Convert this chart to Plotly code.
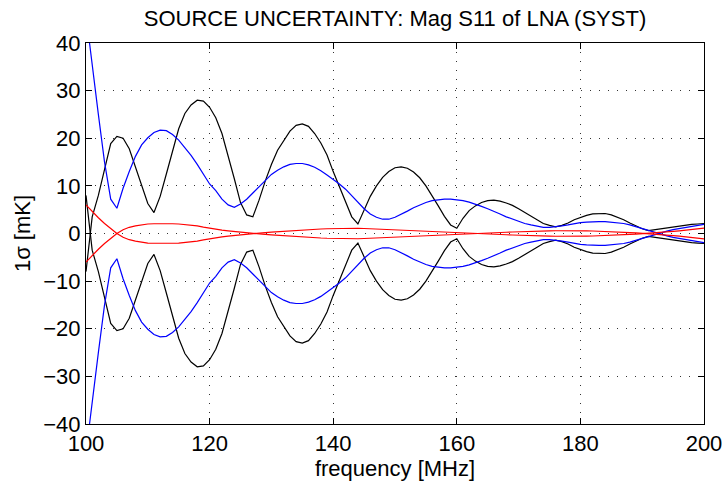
import numpy as np
import plotly.graph_objects as go

# Frequency grid [MHz]
freq = list(range(100, 201))

# 1-sigma systematic uncertainty [mK]; each curve is drawn as +/- pair
unc_black = [
    -8.0, 3.5, 8.0, 13.5, 18.9, 20.4, 20.0, 17.8, 13.8, 9.8,
    6.3, 4.4, 7.8, 12.5, 17.5, 22.0, 25.2, 27.0, 28.0, 27.8,
    26.5, 24.3, 21.0, 16.5, 11.5, 6.5, 3.9, 3.5, 7.0, 11.0,
    14.5, 17.5, 19.5, 21.5, 22.7, 23.0, 22.5, 21.0, 19.0, 16.5,
    13.0, 9.8, 6.5, 3.5, 2.0, 5.0, 7.8, 10.0, 11.8, 13.0,
    13.8, 14.0, 13.7, 12.9, 11.7, 10.0, 8.0, 5.8, 3.6, 1.8,
    1.1, 3.2, 4.8, 5.8, 6.5, 6.9, 7.0, 6.8, 6.4, 5.9,
    5.2, 4.4, 3.6, 2.8, 2.1, 1.7, 1.4, 1.7, 2.2, 2.9,
    3.4, 3.8, 4.1, 4.2, 4.2, 3.9, 3.4, 2.9, 2.2, 1.6,
    1.0, 0.6, 0.8, 1.0, 1.2, 1.4, 1.6, 1.8, 1.9, 2.0,
    2.1,
]

unc_blue = [
    46.0, 35.0, 25.0, 15.0, 7.2, 5.3, 9.5, 13.0, 16.2, 18.6,
    20.1, 21.2, 21.7, 21.6, 20.8, 19.6, 18.0, 16.4, 14.5, 12.3,
    10.4, 9.0, 7.2, 6.0, 5.5, 6.2, 7.2, 8.5, 9.8, 11.2,
    12.4, 13.3, 14.0, 14.5, 14.7, 14.7, 14.4, 13.9, 13.2, 12.3,
    11.4, 10.4, 9.3, 7.9, 6.5, 5.2, 4.1, 3.4, 3.0, 3.0,
    3.4, 4.0, 4.7, 5.4, 6.0, 6.5, 6.9, 7.1, 7.2, 7.2,
    7.1, 6.9, 6.6, 6.2, 5.7, 5.2, 4.7, 4.1, 3.5, 3.0,
    2.5, 2.1, 1.8, 1.5, 1.3, 1.3, 1.4, 1.6, 1.8, 2.1,
    2.3, 2.4, 2.5, 2.5, 2.5, 2.4, 2.3, 2.1, 1.8, 1.4,
    1.0, 0.6, 0.2, -0.2, -0.5, -0.8, -1.0, -1.3, -1.5, -1.7,
    -1.9,
]

unc_red = [
    6.0, 4.6, 3.3, 2.1, 1.0, 0.0, -0.8, -1.3, -1.6, -1.85,
    -2.0, -2.05, -2.1, -2.1, -2.05, -2.0, -1.9, -1.8, -1.6, -1.35,
    -1.1, -0.9, -0.7, -0.55, -0.4, -0.25, -0.15, -0.05, 0.05, 0.2,
    0.3, 0.4, 0.45, 0.55, 0.65, 0.75, 0.85, 0.9, 0.95, 1.0,
    1.05, 1.1, 1.1, 1.1, 1.1, 1.05, 1.0, 0.95, 0.9, 0.85,
    0.8, 0.75, 0.7, 0.65, 0.6, 0.55, 0.5, 0.45, 0.4, 0.35,
    0.3, 0.22, 0.15, 0.07, 0.0, -0.07, -0.14, -0.2, -0.26, -0.32,
    -0.38, -0.42, -0.46, -0.5, -0.53, -0.56, -0.58, -0.6, -0.6, -0.6,
    -0.58, -0.56, -0.53, -0.5, -0.46, -0.41, -0.35, -0.28, -0.2, -0.12,
    -0.05, 0.03, 0.12, 0.22, 0.32, 0.43, 0.55, 0.68, 0.82, 0.97,
    1.12,
]

x_ticks = [100, 120, 140, 160, 180, 200]
y_ticks = [-40, -30, -20, -10, 0, 10, 20, 30, 40]

FONT = "Liberation Sans, Arial, Helvetica, sans-serif"
FSIZE = 22

fig = go.Figure()
for values, color in [(unc_black, "#000000"), (unc_blue, "#0000ff"), (unc_red, "#ff0000")]:
    v = np.asarray(values)
    for sign in (1, -1):
        fig.add_trace(go.Scatter(
            x=freq, y=sign * v, mode="lines",
            line=dict(color=color, width=1.2),
            showlegend=False, hoverinfo="skip",
        ))

axis_common = dict(
    showline=True, linecolor="#000000", linewidth=1, mirror="ticks",
    ticks="inside", ticklen=6, tickwidth=1, tickcolor="#000000",
    showgrid=True, gridcolor="#333333", gridwidth=1, griddash="1px,8px",
    zeroline=False, automargin=False,
    tickfont=dict(family=FONT, size=FSIZE, color="#000000"),
)

fig.update_layout(
    width=727, height=485,
    margin=dict(l=86, r=23, t=43, b=61),
    paper_bgcolor="white", plot_bgcolor="white",
    title=dict(
        text="SOURCE UNCERTAINTY: Mag S11 of LNA (SYST)",
        x=0.5, xanchor="center", xref="paper",
        y=1 - 18 / 485, yanchor="middle",
        font=dict(family=FONT, size=FSIZE, color="#000000"),
    ),
    xaxis=dict(
        range=[100, 200], tickvals=x_ticks,
        title=dict(text="frequency [MHz]", font=dict(family=FONT, size=FSIZE, color="#000000"), standoff=2),
        **axis_common,
    ),
    yaxis=dict(
        range=[-40, 40], tickvals=y_ticks,
        title=dict(text="1σ [mK]", font=dict(family=FONT, size=FSIZE, color="#000000"), standoff=6),
        **axis_common,
    ),
)

fig.write_html("out.html")
